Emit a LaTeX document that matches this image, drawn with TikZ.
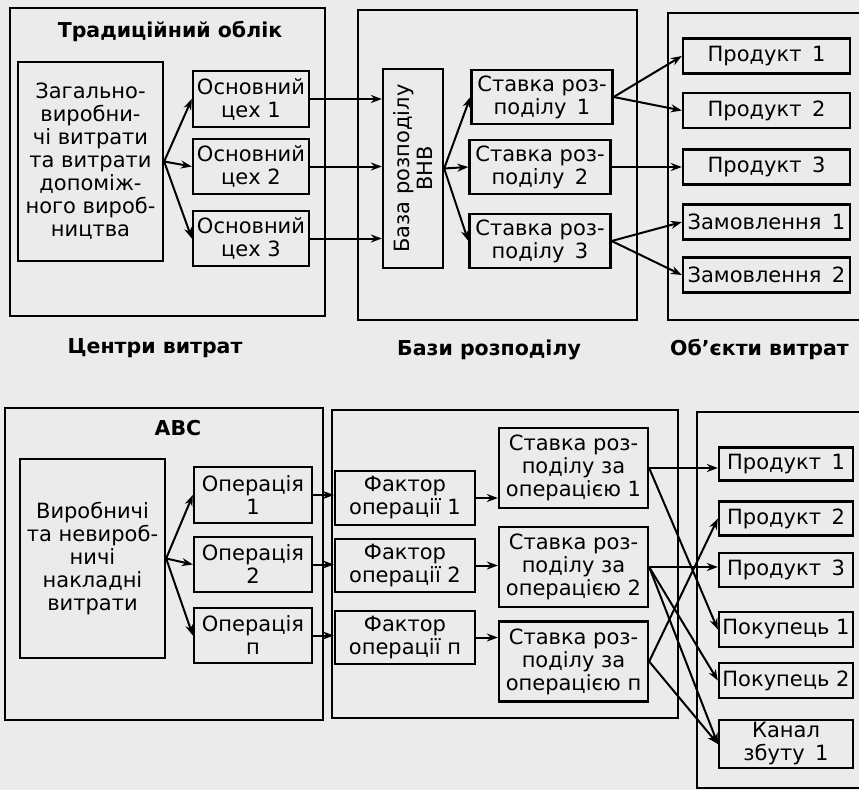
\documentclass[tikz,border=0pt]{standalone}
\usepackage{fontspec}
\setmainfont{DejaVu Sans}
\usetikzlibrary{arrows.meta}
\newcommand\fsz{\fontsize{21}{23}\selectfont}
\newcommand\fbz{\fontsize{20.5}{23}\selectfont\bfseries}
\begin{document}
\begin{tikzpicture}[x=1pt,y=-1pt,
  frame/.style={draw, line width=2.3pt},
  box/.style={draw, line width=2.3pt, align=center, inner sep=0pt, font=\fsz},
  arr/.style={-{Stealth[length=11pt,width=8pt]}, line width=2pt},
  lbl/.style={font=\fbz, inner sep=0pt}]
\useasboundingbox[fill=black!8] (0,0) rectangle (859,790);

% ---------- top: frames ----------
\draw[frame] (10,8) rectangle (325,316);
\draw[frame] (358,10) rectangle (637,320);
\draw[frame] (668,13) rectangle (885,320);

\node[lbl] (t1) at (170,32) {Традиційний облік};

\node[box, minimum width=145, minimum height=199] (zag) at (90.5,161.5)
  {Загально-\\виробни-\\чі витрати\\та витрати\\допоміж-\\ного вироб-\\ництва};
\node[box, minimum width=116, minimum height=56] (c1) at (251,99) {Основний\\цех 1};
\node[box, minimum width=116, minimum height=55] (c2) at (251,166.5) {Основний\\цех 2};
\node[box, minimum width=116, minimum height=55] (c3) at (251,238.5) {Основний\\цех 3};

\node[box, minimum width=60, minimum height=199] (base) at (413,168.5) {};
\node[rotate=90, font=\fsz, align=center, inner sep=0pt] (basetxt) at (base.center) {База розподілу\\ВНВ};

\node[box, minimum width=141, minimum height=54] (r1) at (542,97) {Ставка роз-\\поділу\enspace 1};
\node[box, minimum width=141, minimum height=54] (r2) at (540,167) {Ставка роз-\\поділу\enspace 2};
\node[box, minimum width=141, minimum height=54] (r3) at (540,241) {Ставка роз-\\поділу\enspace 3};

\node[box, minimum width=167, minimum height=35] (p1) at (766.5,56) {Продукт\enspace 1};
\node[box, minimum width=167, minimum height=35] (p2) at (766.5,110.5) {Продукт\enspace 2};
\node[box, minimum width=167, minimum height=35] (p3) at (766.5,167) {Продукт\enspace 3};
\node[box, minimum width=167, minimum height=35] (z1) at (766.5,222) {Замовлення\enspace 1};
\node[box, minimum width=167, minimum height=35] (z2) at (766.5,275) {Замовлення\enspace 2};

\draw[arr] (zag.east) -- (c1.west);
\draw[arr] (zag.east) -- (c2.west);
\draw[arr] (zag.east) -- (c3.west);
\draw[arr] (c1.east) -- (c1.east -| base.west);
\draw[arr] (c2.east) -- (c2.east -| base.west);
\draw[arr] (c3.east) -- (c3.east -| base.west);
\draw[arr] (base.east) -- (r1.west);
\draw[arr] (base.east) -- (r2.west);
\draw[arr] (base.east) -- (r3.west);
\draw[arr] (r1.east) -- (p1.west);
\draw[arr] (r1.east) -- (p2.west);
\draw[arr] (r2.east) -- (p3.west);
\draw[arr] (r3.east) -- (z1.west);
\draw[arr] (r3.east) -- (z2.west);

\node[lbl] (l1) at (155,348) {Центри витрат};
\node[lbl] (l2) at (489,350) {Бази розподілу};
\node[lbl, anchor=west] (l3) at (670,350) {Об’єкти витрат};

% ---------- bottom: frames ----------
\draw[frame] (5,408) rectangle (323,720);
\draw[frame] (332,410) rectangle (678,718);
\draw[frame] (697,412) rectangle (885,788);

\node[lbl] (t2) at (178,428) {ABC};

\node[box, minimum width=145, minimum height=199] (vir) at (92.5,558.5)
  {Виробничі\\та невироб-\\ничі\\накладні\\витрати};
\node[box, minimum width=118, minimum height=56] (o1) at (253,495) {Операція\\1};
\node[box, minimum width=118, minimum height=55] (o2) at (253,564.5) {Операція\\2};
\node[box, minimum width=118, minimum height=55] (on) at (253,635.5) {Операція\\п};

\node[box, minimum width=140, minimum height=54] (f1) at (405,498) {Фактор\\операції 1};
\node[box, minimum width=140, minimum height=53] (f2) at (405,565.5) {Фактор\\операції 2};
\node[box, minimum width=140, minimum height=53] (fn) at (405,637.5) {Фактор\\операції п};

\node[box, minimum width=149, minimum height=80] (s1) at (573.5,468) {Ставка роз-\\поділу за\\операцією 1};
\node[box, minimum width=149, minimum height=80] (s2) at (573.5,567) {Ставка роз-\\поділу за\\операцією 2};
\node[box, minimum width=149, minimum height=80] (sn) at (573.5,661.5) {Ставка роз-\\поділу за\\операцією п};

\node[box, minimum width=134, minimum height=33] (q1) at (786,464) {Продукт\enspace 1};
\node[box, minimum width=134, minimum height=34] (q2) at (786,518.5) {Продукт\enspace 2};
\node[box, minimum width=134, minimum height=34] (q3) at (786,570) {Продукт\enspace 3};
\node[box, minimum width=134, minimum height=35] (k1) at (786,629.5) {Покупець 1};
\node[box, minimum width=134, minimum height=35] (k2) at (786,680.5) {Покупець 2};
\node[box, minimum width=134, minimum height=48] (kz) at (786,744) {Канал\\збуту\enspace 1};

\draw[arr] (vir.east) -- (o1.west);
\draw[arr] (vir.east) -- (o2.west);
\draw[arr] (vir.east) -- (on.west);
\draw[arr] (o1.east) -- (o1.east -| f1.west);
\draw[arr] (o2.east) -- (o2.east -| f2.west);
\draw[arr] (on.east) -- (on.east -| fn.west);
\draw[arr] (f1.east) -- (f1.east -| s1.west);
\draw[arr] (f2.east) -- (f2.east -| s2.west);
\draw[arr] (fn.east) -- (fn.east -| sn.west);

\draw[arr] (s1.east) -- (s1.east -| q1.west);
\draw[arr] (s1.east) -- (k1.west);
\draw[arr] (s2.east) -- (s2.east -| q3.west);
\draw[arr] (s2.east) -- (k2.west);
\draw[arr] (s2.east) -- (kz.west);
\draw[arr] (sn.east) -- (q2.west);
\draw[arr] (sn.east) -- (kz.west);
\end{tikzpicture}
\end{document}
